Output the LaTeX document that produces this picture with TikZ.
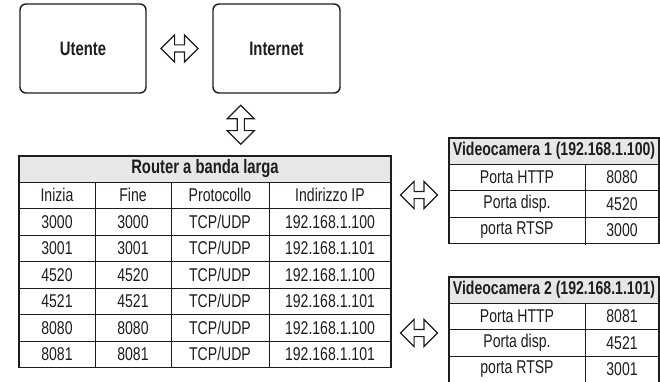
\documentclass[tikz,border=0pt]{standalone}
\usepackage{fontspec}
\setmainfont{Liberation Sans}[FakeStretch=0.76]
\usetikzlibrary{shapes.arrows,calc}
\definecolor{ink}{RGB}{30,28,28}
\definecolor{headgray}{RGB}{230,231,232}

\begin{document}
\begin{tikzpicture}[x=1pt, y=-1pt, ink,
    font=\fontsize{18.5}{21}\selectfont,
    box/.style={draw, line width=1.4pt, rounded corners=6pt, minimum width=126pt, minimum height=89pt, font=\fontsize{19.5}{22}\selectfont\bfseries},
    headcell/.style={fill=headgray, minimum height=26pt, inner sep=0pt, font=\fontsize{18.5}{21}\selectfont\bfseries},
    dblarrow/.style={double arrow, draw, line width=1.2pt, fill=white, inner sep=3pt, double arrow head extend=10pt, minimum height=37pt},
    grid/.style={line width=0.9pt},
    outer/.style={line width=1.4pt}]
  \useasboundingbox (0,0) rectangle (660,382);

  % Boxes
  \node[box] (user) at (83,48.5) {Utente};
  \node[box, minimum width=127pt] (inet) at (276.5,48.5) {Internet};

  % Router table
  \node[headcell, minimum width=372pt, font=\fontsize{19.5}{22}\selectfont\bfseries] (router) at (205,169) {Router a banda larga};
  \foreach \i in {0,...,6} \draw[grid] (19,{182+26.5*\i}) -- (391,{182+26.5*\i});
  \foreach \x in {95,171,269} \draw[grid] (\x,182) -- (\x,367.5);
  \draw[outer] (19,156) rectangle (391,367.5);
  \foreach \a/\b/\c/\d [count=\i from 0] in {Inizia/Fine/Protocollo/Indirizzo IP,
      3000/3000/{TCP/UDP}/192.168.1.100, 3001/3001/{TCP/UDP}/192.168.1.101,
      4520/4520/{TCP/UDP}/192.168.1.100, 4521/4521/{TCP/UDP}/192.168.1.101,
      8080/8080/{TCP/UDP}/192.168.1.100, 8081/8081/{TCP/UDP}/192.168.1.101} {
    \node (r\i-1) at (57,{195.25+26.5*\i}) {\a};
    \node (r\i-2) at (133,{195.25+26.5*\i}) {\b};
    \node (r\i-3) at (220,{195.25+26.5*\i}) {\c};
    \node (r\i-4) at (330,{195.25+26.5*\i}) {\d};
  }

  % Camera tables
  \foreach \n/\t/\ip/\http/\disp/\rtsp in {1/138/100/8080/4520/3000, 2/277/101/8081/4521/3001} {
    \node[headcell, minimum width=210pt] (cam\n) at (554,{\t+13}) {Videocamera \n\ (192.168.1.\ip)};
    \foreach \j in {0,...,2} \draw[grid] (449,{\t+26+26.5*\j}) -- (659,{\t+26+26.5*\j});
    \draw[grid] (585,{\t+26}) -- (585,{\t+107});
    \draw[outer] (449,\t) rectangle (659,{\t+105.5+2*(\n-1)});
    \foreach \lab/\val [count=\j] in {Porta HTTP/\http, Porta disp./\disp, porta RTSP/\rtsp} {
      \node (cam\n-\j-1) at (517,{\t+12.75+26.5*\j}) {\lab};
      \node (cam\n-\j-2) at (622,{\t+12.75+26.5*\j}) {\val};
    }
  }

  % Arrows
  \node[dblarrow] (ua) at ($(user.east)!0.5!(inet.west)$) {};
  \node[dblarrow, rotate=90, minimum height=39pt] (ia) at ($(inet.south)!0.5!(router.north)$) {};
  \node[dblarrow] (ca1) at (419,195) {};
  \node[dblarrow] (ca2) at (419,333) {};
\end{tikzpicture}
\end{document}
